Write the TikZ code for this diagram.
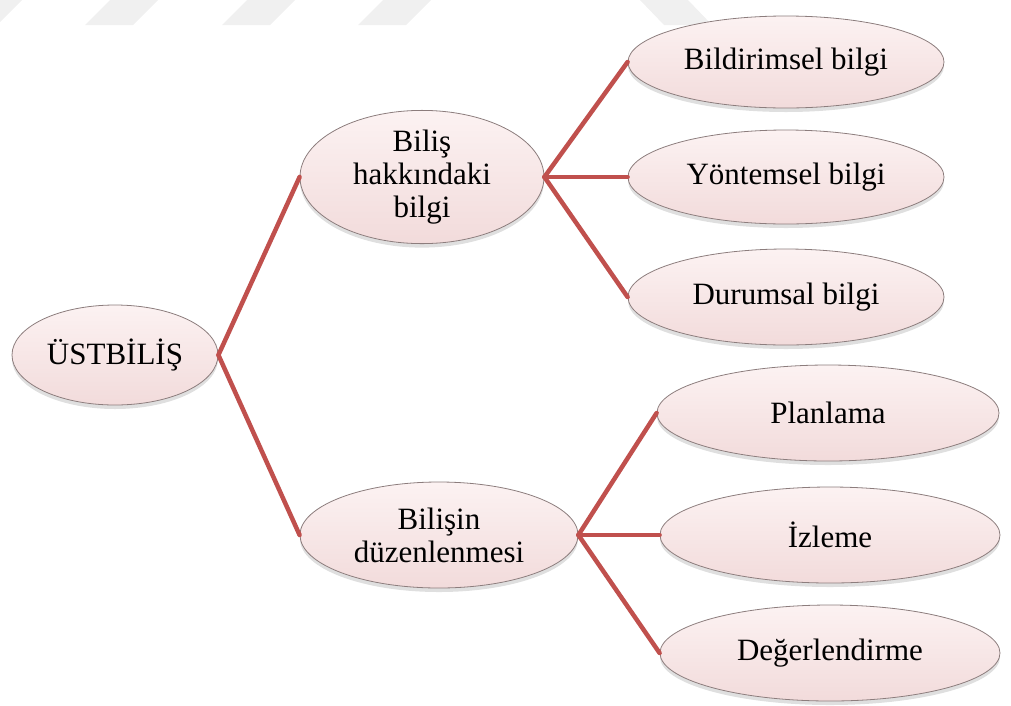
\documentclass[tikz,border=0pt]{standalone}
\usepackage{fontspec}
\setmainfont{Liberation Serif}
\usepackage{tikz}
\usetikzlibrary{shapes.geometric, shadows, calc}
\definecolor{linkred}{RGB}{192, 80, 77}
\definecolor{ovalfill}{RGB}{242, 219, 219}
\definecolor{ovalhi}{RGB}{252, 242, 242}
\definecolor{ovaledge}{RGB}{140, 125, 125}
\definecolor{markgray}{RGB}{240, 240, 240}
\tikzset{
  oval/.style={ellipse, draw=ovaledge, line width=0.8pt, top color=ovalhi, bottom color=ovalfill,
    inner sep=0pt, align=center, font=\fontsize{31}{33}\selectfont,
    drop shadow={shadow xshift=0pt, shadow yshift=-4pt, opacity=0.25}},
  link/.style={draw=linkred, line width=4.5pt, line cap=round}
}

\begin{document}
\begin{tikzpicture}[x=1pt, y=-1pt]
  \useasboundingbox (0,0) rectangle (1011,705);

  % faint watermark stripes
  \foreach \sx in {-51, 85, 222, 358}
    \fill[markgray] (\sx,25) -- ++(48,0) -- ++(25,-25) -- ++(-48,0) -- cycle;
  \fill[markgray] (640,0) -- (688,0) -- (712,25) -- (664,25) -- cycle;

  % root and first level
  \node[oval, minimum width=206pt, minimum height=100pt] (root) at (115, 355) {ÜSTBİLİŞ};
  \node[oval, minimum width=244pt, minimum height=106pt] (know) at (422, 177) {Biliş\\hakkındaki\\bilgi};
  \node[oval, minimum width=278pt, minimum height=106pt] (reg) at (439, 535) {Bilişin\\düzenlenmesi};

  % knowledge branch
  \node[oval, minimum width=316pt, minimum height=92pt] (decl) at (786, 62) {Bildirimsel bilgi};
  \node[oval, minimum width=316pt, minimum height=94pt] (proc) at (786, 177) {Yöntemsel bilgi};
  \node[oval, minimum width=316pt, minimum height=96pt] (cond) at (786, 297) {Durumsal bilgi};

  % regulation branch
  \node[oval, minimum width=342pt, minimum height=96pt] (plan) at (828, 413) {Planlama};
  \node[oval, minimum width=340pt, minimum height=96pt] (mon) at (830, 535) {İzleme};
  \node[oval, minimum width=340pt, minimum height=96pt] (eval) at (830, 653) {Değerlendirme};

  % connectors
  \draw[link] (know.west) -- (root.east) -- (reg.west);
  \foreach \c in {decl, proc, cond}
    \draw[link] (know.east) -- (\c.west);
  \foreach \c in {plan, mon, eval}
    \draw[link] (reg.east) -- (\c.west);
\end{tikzpicture}
\end{document}
